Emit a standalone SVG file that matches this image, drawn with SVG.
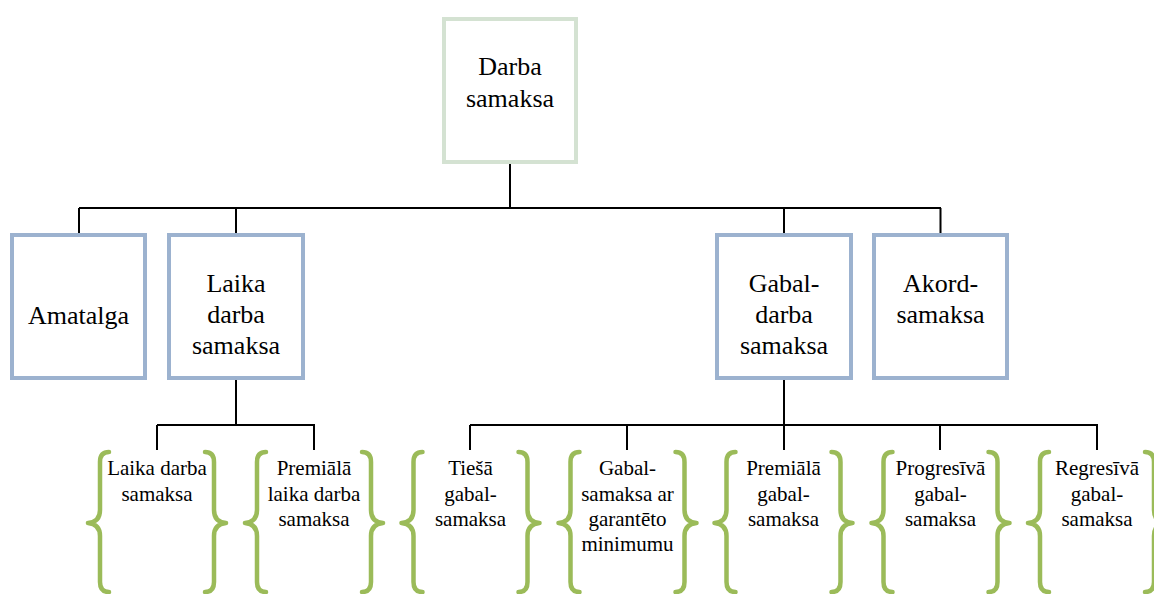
<svg xmlns="http://www.w3.org/2000/svg" width="1154" height="594" viewBox="0 0 1154 594">
  <style>
    .bg { fill: #ffffff; }
    .root { fill: #ffffff; stroke: #D4E2D2; stroke-width: 4; }
    .box { fill: #ffffff; stroke: #9CB2CF; stroke-width: 4; }
    .brace { fill: none; stroke: #9BBB59; stroke-width: 4.5; stroke-linecap: round; stroke-linejoin: round; }
    .conn { fill: none; stroke: #000000; stroke-width: 2; }
  </style>
  <defs>
    <!-- pair of curly braces around a leaf, centred at x=0, top at y=452 -->
    <g id="braces">
      <path class="brace" d="M -48 452 Q -57 452 -57 462 L -57 510 Q -57 522 -69 523 Q -57 524 -57 536 L -57 582 Q -57 592 -48 592"/>
      <path class="brace" d="M 48 452 Q 57 452 57 462 L 57 510 Q 57 522 69 523 Q 57 524 57 536 L 57 582 Q 57 592 48 592"/>
    </g>
  </defs>
  <rect class="bg" x="0" y="0" width="1154" height="594"/>

  <!-- connectors -->
  <g id="connectors">
    <path class="conn" d="M 510 164 V 208 M 79 208 H 941 M 79 208 V 233 M 236 208 V 233 M 784 208 V 233 M 940.5 208 V 233"/>
    <path class="conn" d="M 236 380 V 425 M 157 425 H 315 M 157 425 V 450 M 314 425 V 450"/>
    <path class="conn" d="M 784 380 V 425 M 470 425 H 1098 M 470 425 V 450 M 627 425 V 450 M 784 425 V 450 M 940 425 V 450 M 1097 425 V 450"/>
  </g>

  <g font-family="Liberation Serif, Times New Roman, serif" fill="#000000" text-anchor="middle">
    <!-- root -->
    <g id="darba-samaksa" font-size="26">
      <rect class="root" x="444" y="19" width="132" height="143"/>
      <text x="510" y="75">Darba</text>
      <text x="510" y="107">samaksa</text>
    </g>

    <!-- second level -->
    <g id="amatalga" font-size="26">
      <rect class="box" x="12" y="235" width="133" height="143"/>
      <text x="78.5" y="324">Amatalga</text>
    </g>
    <g id="laika-darba-samaksa" font-size="26">
      <rect class="box" x="169" y="235" width="134" height="143"/>
      <text x="236" y="292">Laika</text>
      <text x="236" y="323">darba</text>
      <text x="236" y="354">samaksa</text>
    </g>
    <g id="gabaldarba-samaksa" font-size="26">
      <rect class="box" x="717" y="235" width="134" height="143"/>
      <text x="784" y="292">Gabal-</text>
      <text x="784" y="323">darba</text>
      <text x="784" y="354">samaksa</text>
    </g>
    <g id="akordsamaksa" font-size="26">
      <rect class="box" x="874" y="235" width="133" height="143"/>
      <text x="940.5" y="292">Akord-</text>
      <text x="940.5" y="323">samaksa</text>
    </g>

    <!-- leaves -->
    <g id="laika-darba-samaksa-2" font-size="21">
      <use href="#braces" x="157"/>
      <text x="157" y="475">Laika darba</text>
      <text x="157" y="500.5">samaksa</text>
    </g>
    <g id="premiala-laika" font-size="21">
      <use href="#braces" x="314"/>
      <text x="314" y="475">Premiālā</text>
      <text x="314" y="500.5">laika darba</text>
      <text x="314" y="526">samaksa</text>
    </g>
    <g id="tiesa-gabalsamaksa" font-size="21">
      <use href="#braces" x="470.5"/>
      <text x="470.5" y="475">Tiešā</text>
      <text x="470.5" y="500.5">gabal-</text>
      <text x="470.5" y="526">samaksa</text>
    </g>
    <g id="gabalsamaksa-minimums" font-size="21">
      <use href="#braces" x="627.5"/>
      <text x="627.5" y="475">Gabal-</text>
      <text x="627.5" y="500.5">samaksa ar</text>
      <text x="627.5" y="526">garantēto</text>
      <text x="627.5" y="551">minimumu</text>
    </g>
    <g id="premiala-gabalsamaksa" font-size="21">
      <use href="#braces" x="783.5"/>
      <text x="783.5" y="475">Premiālā</text>
      <text x="783.5" y="500.5">gabal-</text>
      <text x="783.5" y="526">samaksa</text>
    </g>
    <g id="progresiva-gabalsamaksa" font-size="21">
      <use href="#braces" x="940.5"/>
      <text x="940.5" y="475">Progresīvā</text>
      <text x="940.5" y="500.5">gabal-</text>
      <text x="940.5" y="526">samaksa</text>
    </g>
    <g id="regresiva-gabalsamaksa" font-size="21">
      <use href="#braces" x="1097"/>
      <text x="1097" y="475">Regresīvā</text>
      <text x="1097" y="500.5">gabal-</text>
      <text x="1097" y="526">samaksa</text>
    </g>
  </g>
</svg>
